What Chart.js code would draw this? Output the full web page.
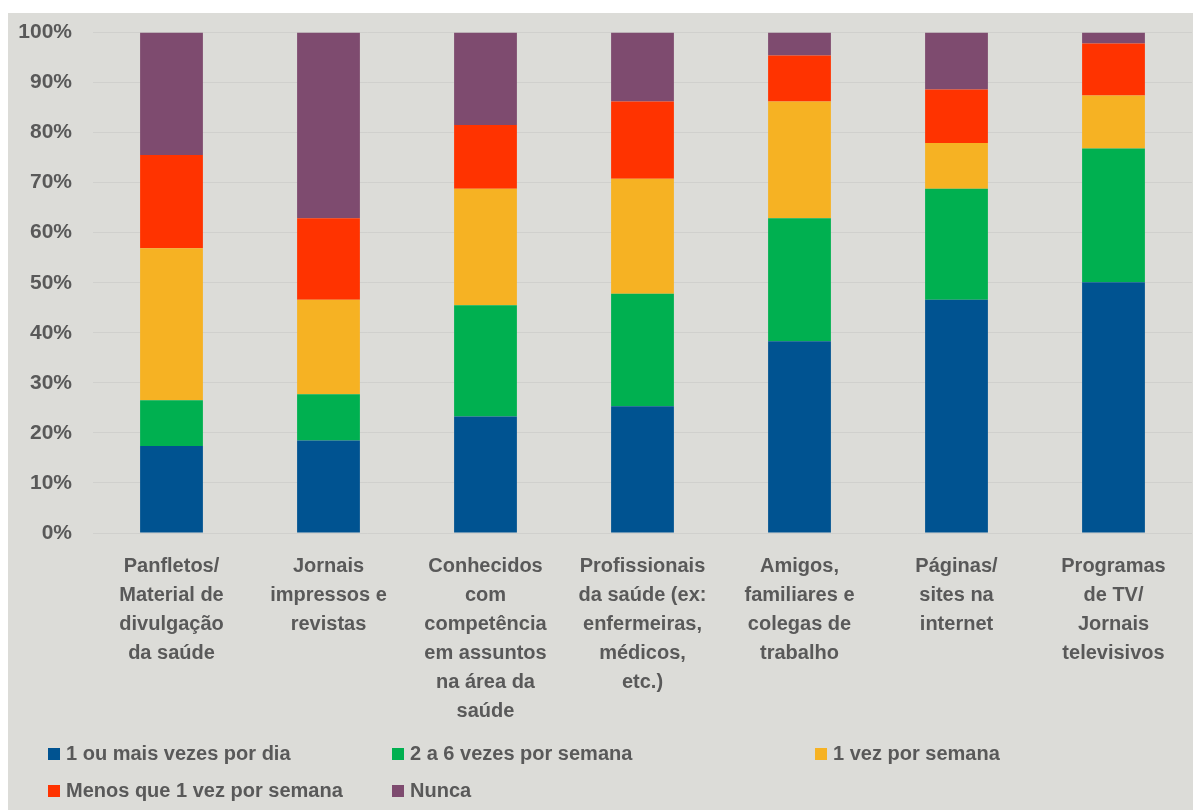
<!DOCTYPE html>
<html>
<head>
<meta charset="utf-8">
<script src="https://cdn.jsdelivr.net/npm/chart.js@4.4.0/dist/chart.umd.min.js"></script>
<style>
  html, body { margin: 0; padding: 0; background: #fff; }
  #painel {
    position: absolute; left: 8px; top: 13px;
    width: 1185px; height: 797px;
    background: #dcdcd8;
  }
  #grafico { position: absolute; left: 0; top: 0; }
  #legenda {
    position: absolute; left: 40px; top: 722px;
    display: grid;
    grid-template-columns: 344px 423px auto;
    grid-auto-rows: 37px;
    font: bold 20px "Liberation Sans", Arial, sans-serif;
    color: #595959;
  }
  #legenda .item { display: flex; align-items: center; white-space: nowrap; }
  #legenda .caixa { width: 12px; height: 12px; margin-right: 6px; }
</style>
</head>
<body>
<div id="painel">
  <canvas id="grafico" width="1185" height="797"></canvas>
  <div id="legenda"></div>
</div>
<script>
// categorias (cada linha do rótulo separada)
const categorias = [
  ['Panfletos/', 'Material de', 'divulgação', 'da saúde'],
  ['Jornais', 'impressos e', 'revistas'],
  ['Conhecidos', 'com', 'competência', 'em assuntos', 'na área da', 'saúde'],
  ['Profissionais', 'da saúde (ex:', 'enfermeiras,', 'médicos,', 'etc.)'],
  ['Amigos,', 'familiares e', 'colegas de', 'trabalho'],
  ['Páginas/', 'sites na', 'internet'],
  ['Programas', 'de TV/', 'Jornais', 'televisivos']
];

const series = ['1 ou mais vezes por dia', '2 a 6 vezes por semana', '1 vez por semana', 'Menos que 1 vez por semana', 'Nunca'];

// valores em %
const umOuMaisPorDia   = [17.4, 18.5, 23.3, 25.3, 38.3, 46.6, 50.1];
const doisASeisSemana  = [9.1, 9.2, 22.2, 22.5, 24.6, 22.2, 26.7];
const umaVezSemana     = [30.4, 18.9, 23.3, 23.0, 23.3, 9.1, 10.6];
const menosQueUmaSemana = [18.6, 16.3, 12.7, 15.4, 9.2, 10.7, 10.4];
const nunca            = [24.5, 37.1, 18.5, 13.8, 4.6, 11.4, 2.2];

const ticksY = [0, 10, 20, 30, 40, 50, 60, 70, 80, 90, 100];

const cores = ['#005391', '#00b050', '#f6b223', '#ff3300', '#7e4b6f'];
const corTexto = '#595959';
const fonte = '"Liberation Sans", Arial, sans-serif';

const valores = [umOuMaisPorDia, doisASeisSemana, umaVezSemana, menosQueUmaSemana, nunca];

const grafico = new Chart(document.getElementById('grafico'), {
  type: 'bar',
  data: {
    labels: categorias,
    datasets: series.map((nome, i) => ({
      label: nome,
      data: valores[i],
      backgroundColor: cores[i],
      borderWidth: 0,
      barPercentage: 0.4,
      categoryPercentage: 1
    }))
  },
  options: {
    responsive: false,
    animation: false,
    layout: { padding: { left: 0, top: 19.5, right: 1, bottom: 73 } },
    plugins: {
      legend: { display: false },
      tooltip: { enabled: false }
    },
    scales: {
      x: {
        stacked: true,
        grid: { display: false },
        border: { display: false },
        ticks: {
          color: corTexto,
          font: { family: fonte, size: 20, weight: 'bold', lineHeight: 1.45 },
          maxRotation: 0,
          autoSkip: false,
          padding: 11
        }
      },
      y: {
        stacked: true,
        min: 0,
        max: 100,
        afterFit: (escala) => {
          escala.width = 85;
          // o padding dos ticks não deve empurrar a área do gráfico
          escala.paddingTop = 0;
          escala.paddingBottom = 0;
        },
        afterBuildTicks: (escala) => { escala.ticks = ticksY.map(v => ({ value: v })); },
        grid: { color: 'rgba(0,0,0,0.05)', drawTicks: false },
        border: { display: false },
        ticks: {
          color: corTexto,
          font: { family: fonte, size: 21, weight: 'bold' },
          padding: 21,
          callback: (v) => v + '%'
        }
      }
    }
  }
});

// legenda em HTML, montada a partir dos datasets
const legenda = document.getElementById('legenda');
grafico.data.datasets.forEach(ds => {
  const item = document.createElement('div');
  item.className = 'item';
  const caixa = document.createElement('span');
  caixa.className = 'caixa';
  caixa.style.background = ds.backgroundColor;
  item.appendChild(caixa);
  item.appendChild(document.createTextNode(ds.label));
  legenda.appendChild(item);
});
</script>
</body>
</html>
